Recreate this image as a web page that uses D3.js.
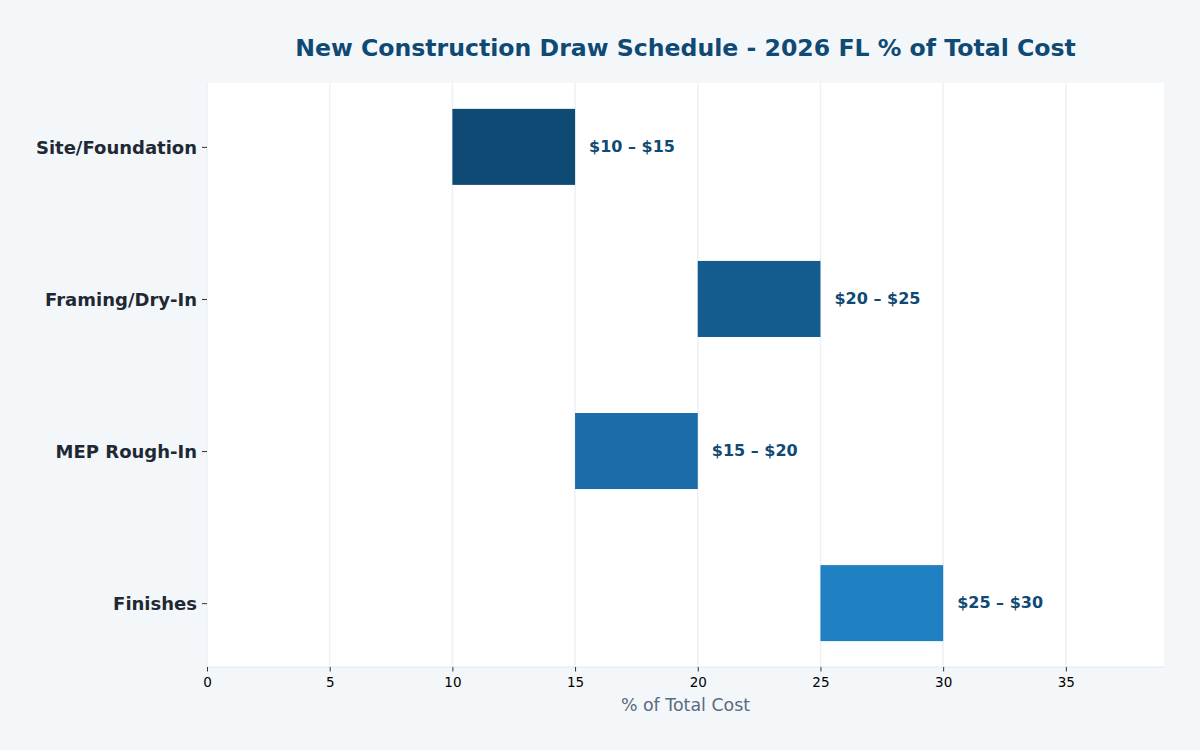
<!DOCTYPE html>
<html>
<head>
<meta charset="utf-8">
<script src="https://cdn.jsdelivr.net/npm/d3@7"></script>
<style>
  html, body { margin: 0; padding: 0; background: #f4f7fa; }
  svg { display: block; font-family: "DejaVu Sans", sans-serif; }
</style>
</head>
<body>
<div id="chart"></div>
<script>
// draw phases and their % of total cost ranges
const phases = ['Site/Foundation', 'Framing/Dry-In', 'MEP Rough-In', 'Finishes'];
const lowPct = [10, 20, 15, 25];
const highPct = [15, 25, 20, 30];
const barColors = ['#0f4a75', '#145c8e', '#1b6ca9', '#1f80c2'];
const xTicks = [0, 5, 10, 15, 20, 25, 30, 35];

const W = 1200, H = 750;
const margin = { top: 83, right: 36, bottom: 83, left: 207 };
const width = W - margin.left - margin.right;
const height = H - margin.top - margin.bottom;

const svg = d3.select('#chart').append('svg')
  .attr('width', W)
  .attr('height', H);

svg.append('rect').attr('width', W).attr('height', H).attr('fill', '#f4f7fa');

const g = svg.append('g').attr('transform', `translate(${margin.left},${margin.top})`);

g.append('rect').attr('width', width).attr('height', height).attr('fill', '#ffffff');

const x = d3.scaleLinear().domain([0, 39]).range([0, width]);
// linear y so the band layout matches ylim of -0.42 .. 3.42
const y = d3.scaleLinear().domain([-0.42, 3.42]).range([0, height]);
const barH = y(0.5) - y(0);

// grid lines
g.selectAll('.grid')
  .data(xTicks)
  .enter().append('line')
  .attr('x1', d => x(d)).attr('x2', d => x(d))
  .attr('y1', 0).attr('y2', height)
  .attr('stroke', '#edf0f4')
  .attr('stroke-width', 1.5);

// bottom spine
g.append('line')
  .attr('x1', 0).attr('x2', width)
  .attr('y1', height).attr('y2', height)
  .attr('stroke', '#e2e8f0');

// bars
g.selectAll('.bar')
  .data(phases)
  .enter().append('rect')
  .attr('class', 'bar')
  .attr('x', (d, i) => x(lowPct[i]))
  .attr('width', (d, i) => x(highPct[i]) - x(lowPct[i]))
  .attr('y', (d, i) => y(i) - barH / 2)
  .attr('height', barH)
  .attr('fill', (d, i) => barColors[i]);

// value labels
g.selectAll('.lbl')
  .data(phases)
  .enter().append('text')
  .attr('x', (d, i) => x(highPct[i]) + 14)
  .attr('y', (d, i) => y(i))
  .attr('dy', '0.3em')
  .attr('fill', '#0f4a75')
  .style('font-size', '16px')
  .attr('font-weight', 'bold')
  .text((d, i) => `$${lowPct[i]} – $${highPct[i]}`);

// x axis
const xAxis = g.append('g')
  .attr('transform', `translate(0,${height})`)
  .call(d3.axisBottom(x).tickValues(xTicks).tickSize(4.5).tickPadding(5.5));
xAxis.select('.domain').remove();
xAxis.selectAll('text')
  .style('font-size', '13.5px')
  .attr('fill', '#000')
  .style('font-family', '"DejaVu Sans", sans-serif');
xAxis.selectAll('line').attr('stroke', '#333');

// y axis
const yAxis = g.append('g')
  .call(d3.axisLeft(y).tickValues(d3.range(phases.length)).tickFormat(i => phases[i]).tickSize(5).tickPadding(5));
yAxis.select('.domain').remove();
yAxis.selectAll('text')
  .attr('dy', '0.38em')
  .style('font-size', '18px')
  .attr('font-weight', 'bold')
  .attr('fill', '#1f2933')
  .style('font-family', '"DejaVu Sans", sans-serif');
yAxis.selectAll('line').attr('stroke', '#333');

// x axis title
svg.append('text')
  .attr('x', margin.left + width / 2)
  .attr('y', 711)
  .attr('text-anchor', 'middle')
  .attr('fill', '#5a6b80')
  .style('font-size', '17.4px')
  .text('% of Total Cost');

// chart title
svg.append('text')
  .attr('x', margin.left + width / 2)
  .attr('y', 55.5)
  .attr('text-anchor', 'middle')
  .attr('fill', '#0f4a75')
  .style('font-size', '23.6px')
  .attr('font-weight', 'bold')
  .text('New Construction Draw Schedule - 2026 FL % of Total Cost');
</script>
</body>
</html>
